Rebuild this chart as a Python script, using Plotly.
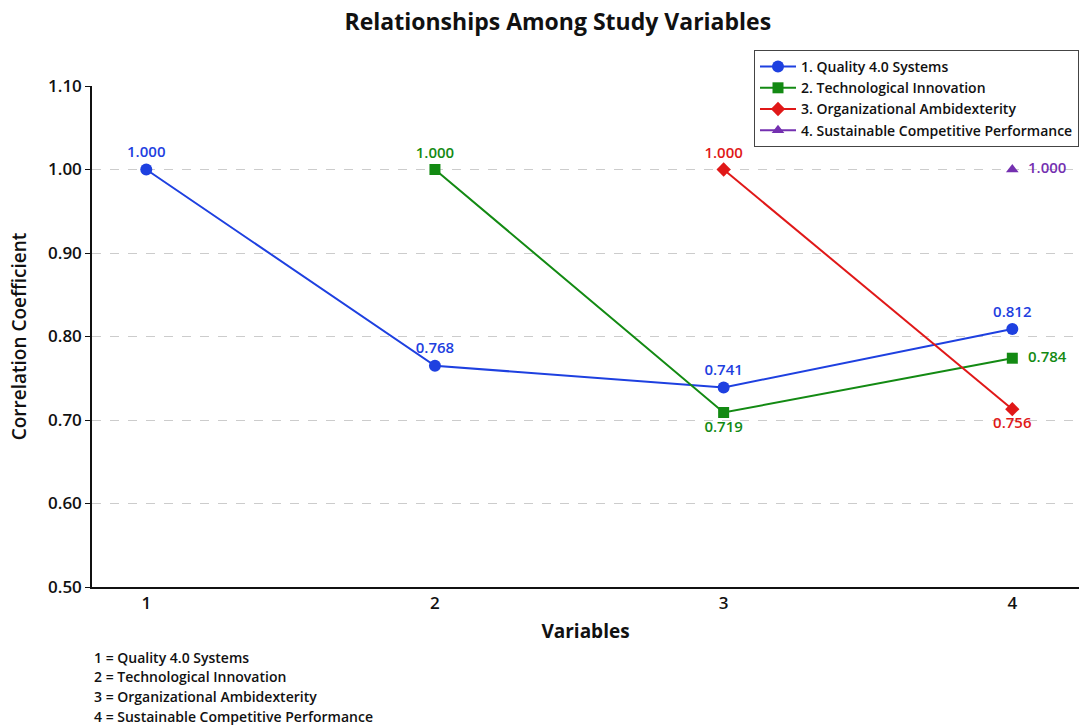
import plotly.graph_objects as go

# Data
series_names = ["1. Quality 4.0 Systems", "2. Technological Innovation",
                "3. Organizational Ambidexterity", "4. Sustainable Competitive Performance"]
qs_x = [1, 2, 3, 4]
qs_y = [1.000, 0.765, 0.739, 0.809]
qs_lbl = ["1.000", "0.768", "0.741", "0.812"]
ti_x = [2, 3, 4]
ti_y = [1.000, 0.709, 0.774]
ti_lbl = ["1.000", "0.719", "0.784"]
oa_x = [3, 4]
oa_y = [1.000, 0.713]
oa_lbl = ["1.000", "0.756"]
sc_x = [4]
sc_y = [1.000]
sc_lbl = ["1.000"]
x_ticks = [1, 2, 3, 4]
y_ticks = [0.50, 0.60, 0.70, 0.80, 0.90, 1.00, 1.10]
footnotes = ["1 = Quality 4.0 Systems", "2 = Technological Innovation",
             "3 = Organizational Ambidexterity", "4 = Sustainable Competitive Performance"]

FONT = "Open Sans"
colors = ["#1E40E0", "#138A13", "#E01818", "#7430B0"]
symbols = ["circle", "square", "diamond", "triangle-up"]
sizes = [12, 11, 11, 11]
positions = [
    ["top center", "top center", "top center", "top center"],
    ["top center", "bottom center", "middle right"],
    ["top center", "bottom center"],
    ["middle right"],
]
data = [(qs_x, qs_y, qs_lbl), (ti_x, ti_y, ti_lbl), (oa_x, oa_y, oa_lbl), (sc_x, sc_y, sc_lbl)]

fig = go.Figure()
for i, (xs, ys, lbl) in enumerate(data):
    fig.add_trace(go.Scatter(
        x=xs, y=ys,
        text=["  " + t if positions[i][j] == "middle right" else t for j, t in enumerate(lbl)],
        mode="lines+markers+text",
        name=series_names[i],
        line=dict(color=colors[i], width=2),
        marker=dict(color=colors[i], symbol=symbols[i], size=sizes[i]),
        textposition=positions[i],
        textfont=dict(color=colors[i], size=15, family=FONT, weight=600),
        cliponaxis=False,
    ))

annotations = []
for k, t in enumerate(footnotes):
    annotations.append(dict(
        text=t, xref="paper", yref="paper", x=0, y=(587 - (657 + 19.7 * k)) / 501,
        xanchor="left", yanchor="middle", showarrow=False,
        font=dict(size=14, family=FONT, color="#111", weight=600),
    ))

fig.update_layout(
    width=1079, height=726,
    margin=dict(l=92, r=0, t=86, b=139),
    paper_bgcolor="white", plot_bgcolor="white",
    title=dict(text="Relationships Among Study Variables", x=0.517, xanchor="center",
               y=1 - 22 / 726, yanchor="middle",
               font=dict(size=23, family=FONT, color="#111", weight="bold")),
    font=dict(family=FONT, color="#111"),
    showlegend=True,
    legend=dict(x=1, xanchor="right", y=1 + 36 / 501, yanchor="top",
                bgcolor="white", bordercolor="#444", borderwidth=1,
                font=dict(size=14, family=FONT, color="#111", weight=600),
                tracegroupgap=0, itemwidth=36),
    annotations=annotations,
)
fig.update_xaxes(
    range=[0.812, 4.231], tickvals=x_ticks, ticktext=[str(v) for v in x_ticks],
    showgrid=False, zeroline=False, showline=True, linecolor="#111", linewidth=1.5,
    ticks="", tickfont=dict(size=17, family=FONT, color="#111", weight=600),
    title=dict(text="Variables", font=dict(size=19, family=FONT, color="#111", weight="bold"), standoff=12),
)
fig.update_yaxes(
    range=[0.5, 1.1], tickvals=y_ticks, ticktext=[f"{v:.2f}" for v in y_ticks],
    showgrid=True, gridcolor="#cccccc", griddash="dash", gridwidth=1,
    zeroline=False, showline=True, linecolor="#111", linewidth=1.5,
    ticks="outside", ticklen=5, tickcolor="#111",
    tickfont=dict(size=17, family=FONT, color="#111", weight=600),
    title=dict(text="Correlation Coefficient", font=dict(size=19, family=FONT, color="#111", weight=600), standoff=16),
)

fig.write_html("out.html", config={"displayModeBar": False},
               post_script="document.body.style.margin='0';document.body.style.overflow='hidden';")
